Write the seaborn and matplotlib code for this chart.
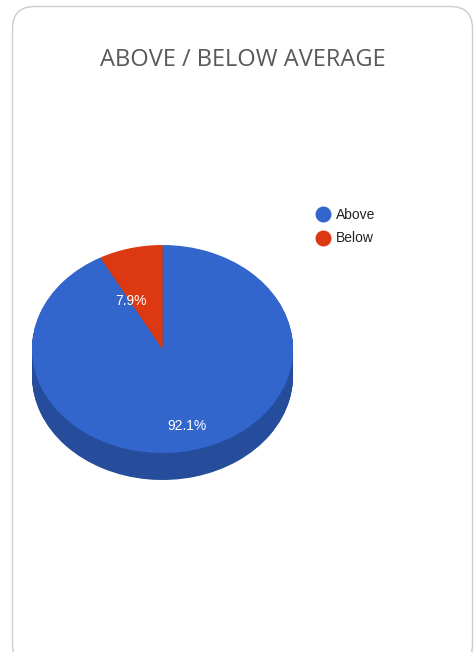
import matplotlib
matplotlib.use("Agg")
import matplotlib.pyplot as plt
from matplotlib.patches import FancyBboxPatch
from matplotlib.lines import Line2D
import seaborn as sns

categories = ["Above", "Below"]
values = [92.1, 7.9]
pct_labels = ["92.1%", "7.9%"]
title = "ABOVE / BELOW AVERAGE"

sns.set_theme(style="white")
plt.rcParams["font.family"] = ["Liberation Sans", "DejaVu Sans"]

top_colors = sns.color_palette(["#3366CC", "#DC3912"])
side_colors = sns.color_palette(["#264D9B", "#A52B0E"])

W, H = 476, 652
fig = plt.figure(figsize=(W / 100, H / 100), dpi=100)
fig.patch.set_facecolor("white")

# card background
bg = fig.add_axes([0, 0, 1, 1])
bg.set_xlim(0, W)
bg.set_ylim(H, 0)
bg.axis("off")
card = FancyBboxPatch((12.5, 6.5), 460, 660, boxstyle="round,pad=0,rounding_size=22",
                      facecolor="white", edgecolor="#cccccc", linewidth=1.0)
bg.add_patch(card)
bg.text(243, 60, title, ha="center", va="center", fontsize=17,
        color="#595959", family=["Open Sans", "DejaVu Sans"])

# pie axes (pixel geometry)
left_px, right_px = 32, 293
top_px = 245
ry_px = 104
depth_px = 27
depth = depth_px / ry_px
ylo = -1 - depth - 0.02
bottom_px = top_px + (1 - ylo) * ry_px
ax = fig.add_axes([left_px / W, 1 - bottom_px / H, (right_px - left_px) / W,
                   (bottom_px - top_px) / H])

n_layers = 40
for i in range(n_layers, 0, -1):
    ax.pie(values, colors=side_colors, startangle=90, counterclock=False,
           center=(0, -depth * i / n_layers), radius=1,
           wedgeprops=dict(linewidth=0, antialiased=True))
wedges, texts, autotexts = ax.pie(
    values, colors=top_colors, startangle=90, counterclock=False,
    radius=1, autopct="%1.1f%%", pctdistance=0.76,
    wedgeprops=dict(linewidth=0),
    textprops=dict(color="white", fontsize=10))
for t, lab in zip(autotexts, pct_labels):
    t.set_text(lab)
autotexts[1].set_position((-0.24, 0.46))
autotexts[0].set_position((0.19, -0.74))

ax.set_aspect("auto")
ax.set_xlim(-1, 1)
ax.set_ylim(ylo, 1)
ax.axis("off")

handles = [Line2D([], [], marker="o", linestyle="none", markersize=10.5,
                  markerfacecolor=c, markeredgecolor=c) for c in top_colors]
fig.legend(handles, categories, loc="upper left",
           bbox_to_anchor=(309 / W, 1 - 201 / H), frameon=False,
           fontsize=10, handlelength=1.0, handletextpad=0.45,
           labelspacing=0.68, borderpad=0, labelcolor="#222222")

fig.savefig("out.png", dpi=100, facecolor="white")
